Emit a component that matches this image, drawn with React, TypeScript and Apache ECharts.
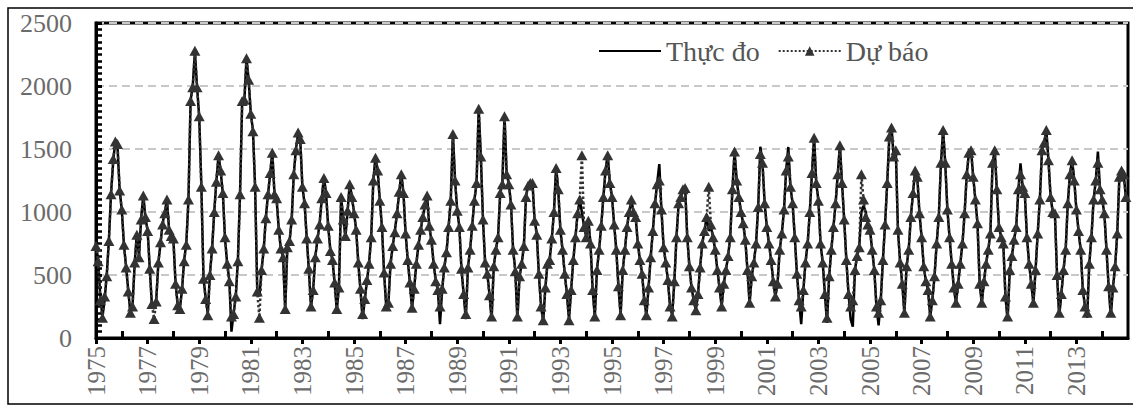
import React, { useEffect, useRef } from "react";
import * as echarts from "echarts";

const startYear = 1975;
const endYear = 2015;
const seriesNames = ["Thực đo", "Dự báo"];
const yMin = 0;
const yMax = 2500;
const yStep = 500;

// Monthly values (Jan..Dec), one row per year 1975..2014
const observed: number[][] = [
  [740, 620, 330, 170, 300, 500, 780, 1150, 1400, 1570, 1520, 1175],
  [1016, 738, 566, 381, 196, 262, 593, 830, 645, 950, 1135, 950],
  [857, 553, 262, 230, 300, 593, 750, 910, 1000, 1095, 857, 800],
  [778, 434, 262, 235, 380, 619, 751, 1095, 1889, 2000, 2272, 1994],
  [1756, 1214, 473, 320, 196, 513, 711, 1003, 1250, 1452, 1320, 1148],
  [791, 593, 460, 50, 196, 328, 619, 1148, 1889, 1880, 2219, 2047],
  [1783, 1650, 1201, 381, 330, 540, 700, 960, 1140, 1300, 1480, 1150],
  [1100, 870, 700, 645, 222, 725, 760, 936, 1307, 1500, 1624, 1571],
  [1201, 1069, 800, 540, 249, 381, 645, 780, 910, 1100, 1280, 1148],
  [883, 700, 619, 434, 222, 407, 1121, 950, 804, 1000, 1227, 1121],
  [1000, 857, 593, 381, 150, 300, 450, 593, 804, 1254, 1439, 1333],
  [1095, 883, 513, 249, 275, 593, 725, 850, 989, 1150, 1307, 1148],
  [830, 619, 434, 235, 400, 593, 738, 850, 963, 1050, 1135, 883],
  [778, 600, 460, 381, 110, 381, 566, 672, 883, 1095, 1624, 1254],
  [1016, 883, 540, 350, 150, 566, 698, 900, 1095, 1227, 1822, 1439],
  [936, 593, 513, 350, 140, 566, 700, 804, 1148, 1227, 1770, 1307],
  [1227, 1069, 700, 540, 150, 487, 593, 725, 1121, 1214, 1227, 1240],
  [936, 830, 500, 249, 130, 400, 593, 619, 791, 1000, 1360, 1175],
  [857, 700, 513, 354, 150, 381, 619, 800, 989, 1095, 1000, 883],
  [804, 936, 751, 381, 170, 540, 700, 897, 1121, 1333, 1460, 1227],
  [1121, 900, 698, 407, 182, 540, 700, 883, 1000, 1095, 1000, 963],
  [750, 619, 513, 300, 182, 400, 645, 850, 1069, 1227, 1380, 1016],
  [725, 600, 460, 249, 182, 450, 804, 1069, 1121, 1175, 1201, 804],
  [566, 400, 302, 222, 350, 566, 751, 850, 963, 850, 883, 800],
  [700, 540, 400, 249, 434, 540, 650, 804, 1175, 1479, 1254, 1121],
  [1000, 910, 778, 540, 275, 487, 600, 751, 1042, 1518, 1386, 1069],
  [883, 750, 619, 450, 328, 434, 700, 830, 1016, 1333, 1516, 1201],
  [1069, 804, 513, 300, 110, 381, 600, 751, 1000, 1307, 1598, 1227],
  [1095, 751, 600, 354, 120, 487, 700, 883, 1069, 1300, 1531, 1227],
  [936, 619, 354, 150, 90, 540, 650, 725, 1000, 1050, 1000, 900],
  [857, 700, 540, 249, 100, 300, 619, 900, 1227, 1600, 1677, 1439],
  [1492, 857, 600, 434, 196, 566, 700, 963, 1150, 1333, 1280, 989],
  [800, 566, 450, 381, 170, 300, 487, 750, 963, 1386, 1650, 1386],
  [1016, 800, 593, 400, 275, 434, 593, 750, 989, 1300, 1465, 1492],
  [1280, 1100, 910, 434, 275, 450, 593, 700, 830, 1386, 1492, 1175],
  [883, 800, 751, 328, 140, 540, 650, 778, 883, 1175, 1386, 1201],
  [1148, 800, 593, 434, 275, 540, 830, 1100, 1492, 1550, 1650, 1412],
  [1121, 1000, 989, 500, 170, 350, 540, 698, 1069, 1300, 1412, 1254],
  [1016, 850, 698, 381, 250, 160, 593, 804, 1095, 1250, 1480, 1175],
  [1100, 989, 698, 407, 170, 400, 566, 830, 1280, 1333, 1300, 1121],
];

const forecast: number[][] = [
  [730, 610, 300, 160, 330, 490, 770, 1140, 1420, 1560, 1540, 1170],
  [1020, 740, 560, 370, 200, 250, 600, 820, 640, 940, 1130, 960],
  [850, 550, 270, 150, 290, 600, 760, 900, 990, 1100, 860, 810],
  [790, 430, 260, 230, 390, 610, 740, 1100, 1880, 1990, 2280, 1990],
  [1760, 1200, 470, 310, 180, 500, 710, 1000, 1240, 1450, 1330, 1150],
  [800, 590, 450, 170, 190, 330, 610, 1140, 1880, 1890, 2220, 2050],
  [1780, 1640, 1200, 370, 160, 540, 710, 950, 1140, 1310, 1470, 1140],
  [1110, 860, 710, 640, 230, 720, 770, 940, 1300, 1490, 1630, 1580],
  [1200, 1070, 790, 550, 250, 380, 640, 790, 900, 1110, 1270, 1150],
  [890, 690, 620, 440, 230, 400, 1120, 940, 810, 1010, 1220, 1120],
  [990, 860, 600, 390, 190, 310, 460, 590, 800, 1250, 1430, 1330],
  [1090, 880, 520, 250, 280, 590, 730, 840, 990, 1160, 1300, 1150],
  [830, 620, 440, 240, 390, 590, 740, 860, 960, 1060, 1130, 890],
  [780, 590, 450, 380, 250, 390, 560, 680, 880, 1090, 1620, 1250],
  [1010, 880, 550, 350, 190, 560, 700, 890, 1090, 1230, 1820, 1440],
  [940, 600, 510, 340, 170, 570, 700, 800, 1150, 1220, 1760, 1300],
  [1220, 1060, 700, 530, 170, 490, 590, 730, 1120, 1210, 1230, 1230],
  [930, 820, 510, 250, 140, 400, 590, 620, 790, 1000, 1350, 1180],
  [860, 700, 510, 350, 140, 380, 620, 800, 990, 1100, 1450, 880],
  [800, 930, 750, 380, 170, 540, 700, 890, 1120, 1330, 1450, 1230],
  [1120, 900, 700, 410, 180, 540, 700, 880, 1000, 1100, 1000, 960],
  [750, 620, 510, 300, 180, 400, 640, 850, 1070, 1220, 1250, 1020],
  [720, 600, 460, 250, 170, 450, 800, 1070, 1120, 1180, 1190, 800],
  [570, 400, 300, 220, 350, 560, 750, 850, 960, 1200, 900, 800],
  [700, 540, 400, 250, 430, 540, 650, 800, 1180, 1480, 1250, 1120],
  [1000, 910, 780, 540, 280, 490, 600, 750, 1040, 1460, 1390, 1070],
  [880, 750, 620, 450, 330, 430, 700, 830, 1020, 1330, 1440, 1200],
  [1070, 800, 510, 300, 250, 380, 600, 750, 1000, 1310, 1590, 1230],
  [1090, 750, 600, 350, 160, 490, 700, 880, 1070, 1300, 1530, 1230],
  [940, 620, 350, 250, 300, 540, 650, 720, 1300, 1100, 960, 900],
  [860, 700, 540, 250, 200, 300, 620, 900, 1230, 1600, 1670, 1440],
  [1490, 860, 600, 430, 200, 570, 700, 960, 1150, 1330, 1280, 990],
  [800, 570, 450, 380, 170, 300, 490, 750, 960, 1390, 1650, 1390],
  [1020, 800, 590, 400, 280, 430, 590, 750, 990, 1300, 1470, 1490],
  [1280, 1100, 910, 430, 280, 450, 590, 700, 830, 1390, 1490, 1180],
  [880, 800, 750, 330, 170, 540, 650, 780, 880, 1180, 1300, 1200],
  [1150, 800, 590, 430, 280, 540, 830, 1100, 1490, 1550, 1650, 1410],
  [1120, 1000, 990, 500, 200, 350, 540, 700, 1070, 1300, 1410, 1250],
  [1020, 850, 700, 380, 250, 200, 590, 800, 1100, 1250, 1390, 1180],
  [1100, 990, 700, 410, 200, 400, 570, 830, 1280, 1330, 1300, 1120],
];

function toPoints(rows: number[][]): number[][] {
  return rows.flatMap((row, yi) =>
    row.map((v, mi) => [startYear + yi + mi / 12, v])
  );
}

export default function App() {
  const ref = useRef<HTMLDivElement>(null);

  useEffect(() => {
    document.body.style.margin = "0";
    document.body.style.overflow = "hidden";
    const chart = echarts.init(ref.current!, null, { renderer: "svg" });
    const font = "'Liberation Serif', 'Times New Roman', serif";
    const evenYears: number[] = [];
    for (let y = startYear + 1; y < endYear; y += 2) evenYears.push(y);

    chart.setOption({
      animation: false,
      backgroundColor: "#fff",
      grid: {
        left: 96,
        right: 5,
        top: 23,
        bottom: 67,
        show: true,
        borderColor: "#000",
        borderWidth: 3,
      },
      legend: {
        left: 593,
        top: 32,
        itemWidth: 62,
        itemHeight: 12,
        itemGap: 18,
        selectedMode: false,
        data: [
          { name: seriesNames[0], itemStyle: { opacity: 0 } },
          { name: seriesNames[1] },
        ],
        textStyle: { fontFamily: font, fontSize: 28, color: "#555" },
      },
      graphic: [
        {
          type: "rect",
          shape: { x: 8, y: 8, width: 1140, height: 396 },
          style: { fill: "none", stroke: "#000", lineWidth: 1.5 },
          silent: true,
        },
      ],
      xAxis: [
        {
          type: "value",
          min: startYear,
          max: endYear,
          interval: 2,
          axisLine: { show: true, lineStyle: { color: "#000", width: 3 } },
          axisTick: { show: true, inside: false, length: 6, lineStyle: { color: "#000", width: 3 } },
          splitLine: { show: false },
          axisLabel: {
            rotate: 90,
            margin: 8,
            showMaxLabel: false,
            fontFamily: font,
            fontSize: 25,
            color: "#6b6b6b",
            formatter: (v: number) => String(v),
          },
        },
        {
          type: "value",
          min: startYear,
          max: endYear,
          position: "bottom",
          axisLine: { show: false },
          axisTick: {
            show: true,
            inside: true,
            length: 7,
            customValues: evenYears,
            lineStyle: { color: "#000", width: 3 },
          },
          axisLabel: { show: false },
          splitLine: { show: false },
        },
      ],
      yAxis: {
        type: "value",
        min: yMin,
        max: yMax,
        interval: yStep,
        axisLine: { show: true, lineStyle: { color: "#000", width: 3 } },
        axisTick: { show: true, inside: true, length: 6, lineStyle: { color: "#000", width: 3 } },
        minorTick: { show: true, splitNumber: 10, length: 6, lineStyle: { color: "#000", width: 2.5 } },
        splitLine: { show: true, lineStyle: { color: "#c8c8c8", width: 2, type: [8, 5] } },
        axisLabel: {
          margin: 24,
          fontFamily: font,
          fontSize: 26,
          color: "#6b6b6b",
          formatter: (v: number) => String(v),
        },
      },
      series: [
        {
          name: seriesNames[0],
          type: "line",
          xAxisIndex: 0,
          data: toPoints(observed),
          symbol: "none",
          lineStyle: { color: "#000", width: 2.5 },
          itemStyle: { color: "#000" },
          z: 2,
        },
        {
          name: seriesNames[1],
          type: "line",
          xAxisIndex: 0,
          data: toPoints(forecast),
          symbol: "triangle",
          symbolSize: [11, 10],
          lineStyle: { color: "#333", width: 2.5, type: "dotted" },
          itemStyle: { color: "#333" },
          z: 3,
        },
      ],
    });
    return () => chart.dispose();
  }, []);

  return <div ref={ref} style={{ width: 1133, height: 405 }} />;
}
